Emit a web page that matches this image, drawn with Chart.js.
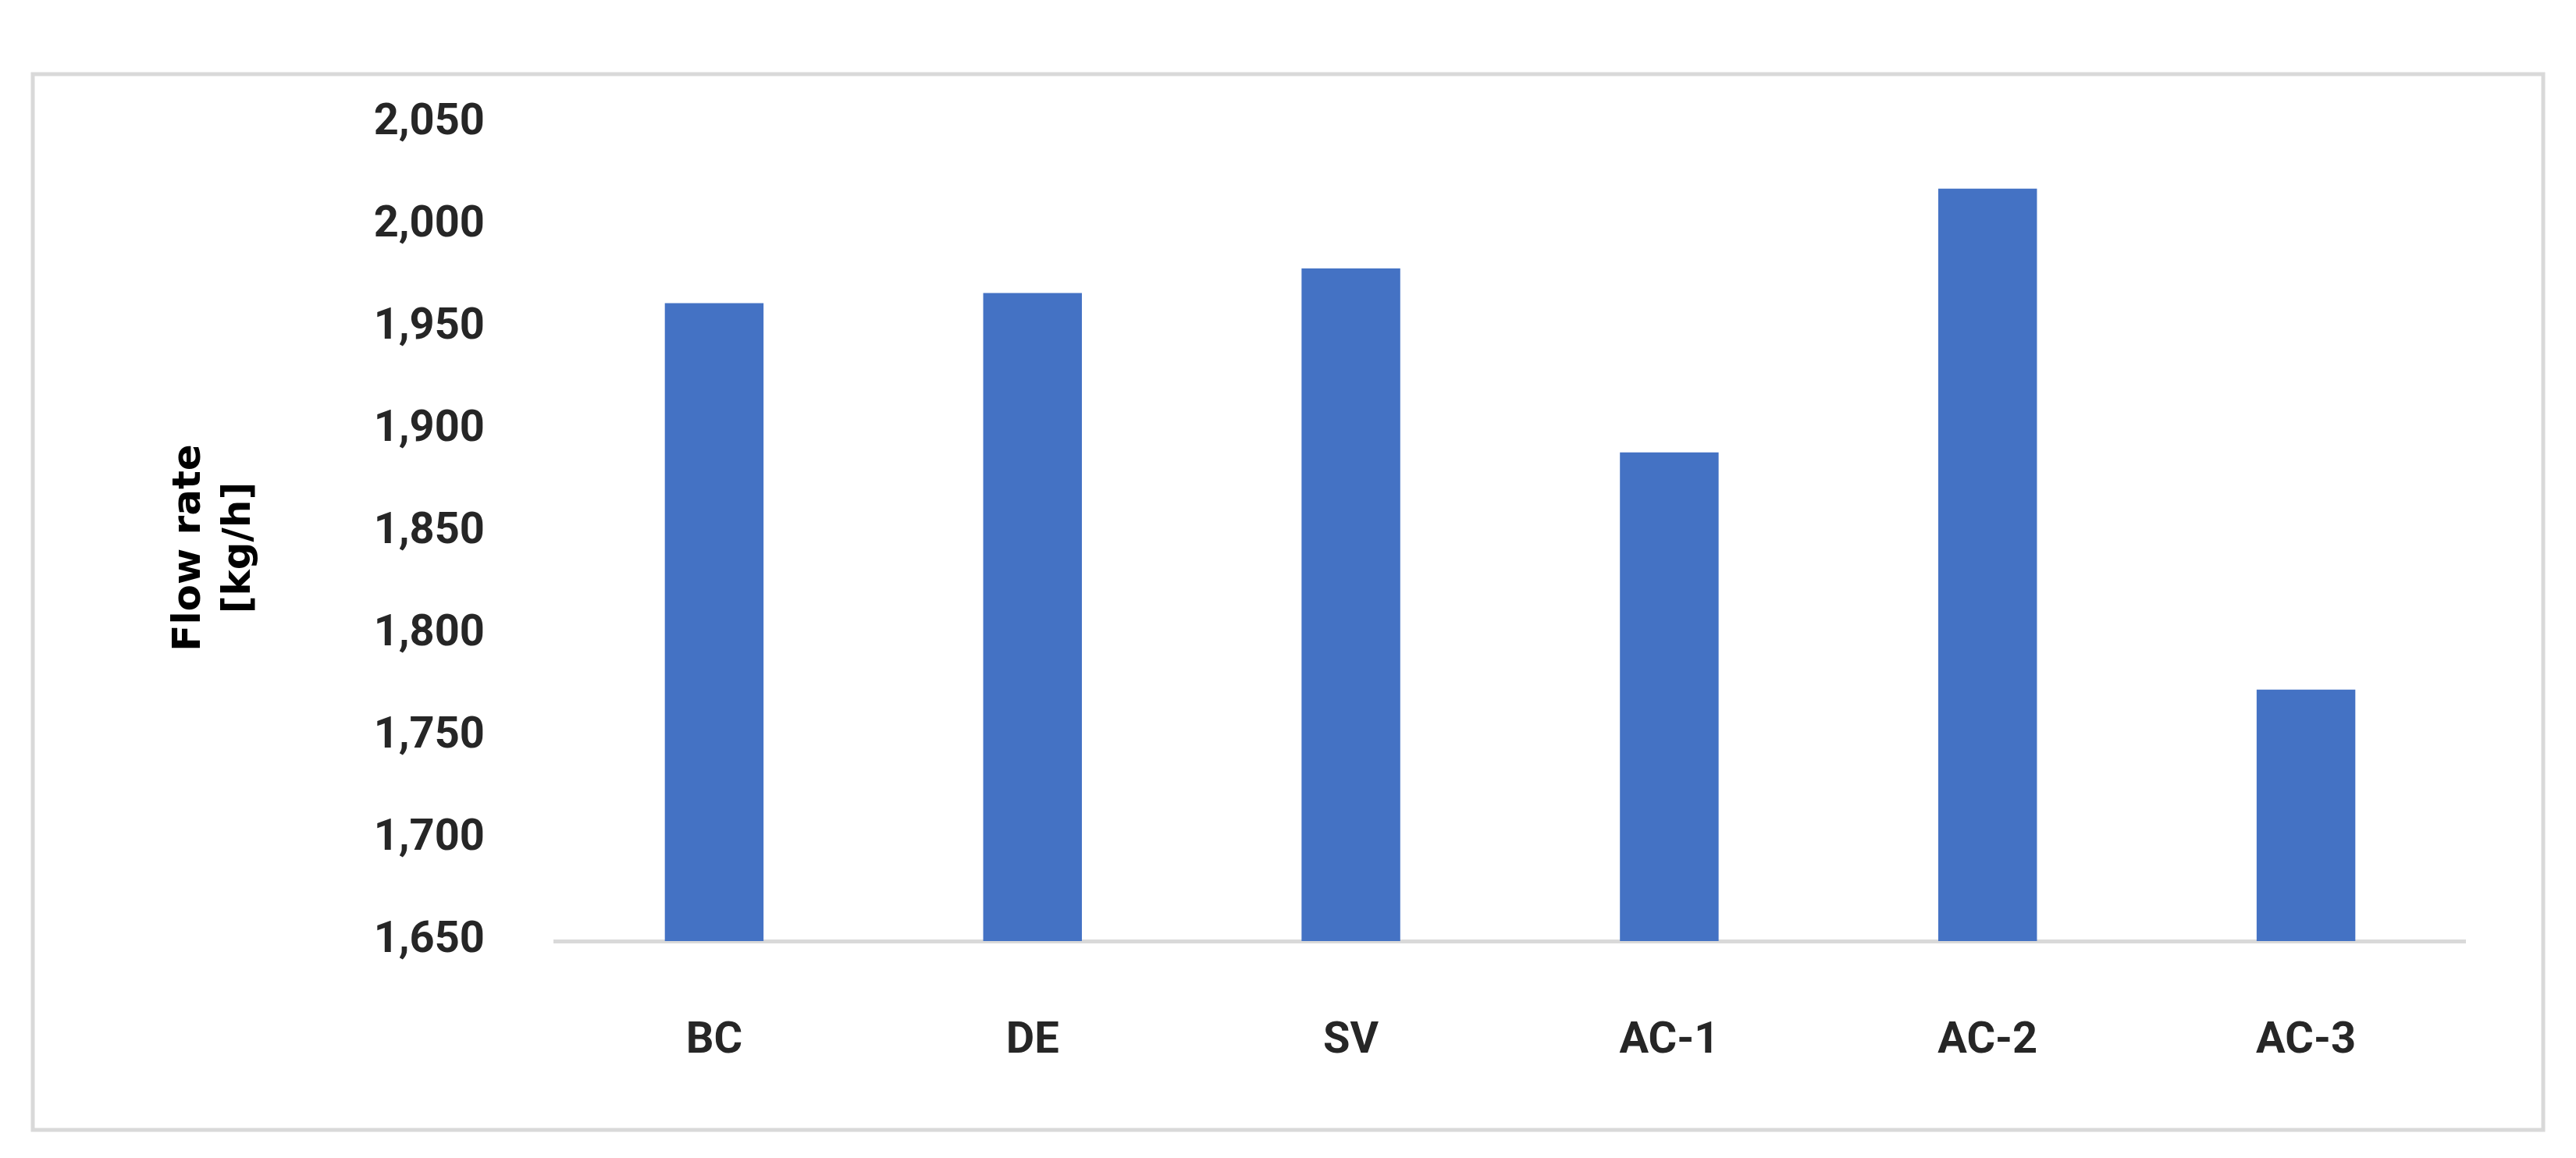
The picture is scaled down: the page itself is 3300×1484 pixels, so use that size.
<!DOCTYPE html>
<html>
<head>
<meta charset="utf-8">
<script src="https://cdn.jsdelivr.net/npm/chart.js@4"></script>
<style>
  html, body { margin: 0; padding: 0; background: #fff; }
  canvas { display: block; }
</style>
</head>
<body>
<canvas id="flowChart" width="3300" height="1484"></canvas>
<script>
// data
const categories = ["BC", "DE", "SV", "AC-1", "AC-2", "AC-3"];
const flowRates = [1962, 1967, 1979, 1889, 2018, 1773];
const yTicks = [1650, 1700, 1750, 1800, 1850, 1900, 1950, 2000, 2050];

const FONT = "'Liberation Sans Narrow', 'Roboto', sans-serif";

// frame + rotated axis title
const decorations = {
  id: "decorations",
  beforeDraw(chart) {
    const ctx = chart.ctx;
    ctx.save();
    ctx.fillStyle = "#fff";
    ctx.fillRect(0, 0, chart.width, chart.height);
    ctx.strokeStyle = "#d9d9d9";
    ctx.lineWidth = 5;
    ctx.strokeRect(42, 95, 3216, 1353);
    ctx.restore();
  },
  afterDraw(chart) {
    const ctx = chart.ctx;
    const { top, bottom } = chart.chartArea;
    ctx.save();
    ctx.translate(275, (top + bottom) / 2 + 20);
    ctx.rotate(-Math.PI / 2);
    ctx.fillStyle = "#000";
    ctx.font = "bold 50px 'DejaVu Sans', sans-serif";
    ctx.textAlign = "center";
    ctx.textBaseline = "middle";
    ctx.fillText("Flow rate", 0, -32);
    ctx.fillText("[kg/h]", 0, 32);
    ctx.restore();
  },
};

new Chart(document.getElementById("flowChart").getContext("2d"), {
  type: "bar",
  data: {
    labels: categories,
    datasets: [
      {
        data: flowRates,
        backgroundColor: "#4472c4",
        barPercentage: 0.31,
        categoryPercentage: 1,
      },
    ],
  },
  options: {
    responsive: false,
    animation: false,
    layout: { padding: { top: 158, right: 142, left: 0, bottom: 0 } },
    plugins: { legend: { display: false }, tooltip: { enabled: false } },
    scales: {
      x: {
        grid: { display: false, drawTicks: false },
        border: { color: "#d9d9d9", width: 5 },
        ticks: {
          padding: 95,
          color: "#262626",
          font: { family: FONT, size: 56, weight: "bold" },
        },
        afterFit(scale) { scale.height = 278; },
      },
      y: {
        min: 1650,
        max: 2050,
        grid: { display: false, drawTicks: false },
        border: { display: false },
        afterBuildTicks(scale) { scale.ticks = yTicks.map((v) => ({ value: v })); },
        ticks: {
          padding: 90,
          color: "#262626",
          font: { family: FONT, size: 56, weight: "bold" },
          callback: (v) => v.toLocaleString("en-US"),
        },
        afterFit(scale) { scale.width = 711; },
      },
    },
  },
  plugins: [decorations],
});
</script>
</body>
</html>
